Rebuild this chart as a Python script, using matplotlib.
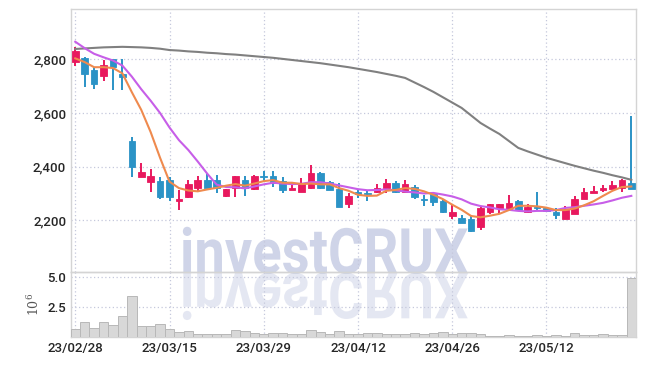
import matplotlib
matplotlib.use('Agg')
import matplotlib.pyplot as plt
import matplotlib.patheffects as pe
from matplotlib.transforms import Affine2D
import pandas as pd

# %% data
dates = [
    '2023-02-28', '2023-03-02', '2023-03-03', '2023-03-06', '2023-03-07', '2023-03-08', '2023-03-09', '2023-03-10',
    '2023-03-13', '2023-03-14', '2023-03-15', '2023-03-16', '2023-03-17', '2023-03-20', '2023-03-21', '2023-03-22',
    '2023-03-23', '2023-03-24', '2023-03-27', '2023-03-28', '2023-03-29', '2023-03-30', '2023-03-31', '2023-04-03',
    '2023-04-04', '2023-04-05', '2023-04-06', '2023-04-07', '2023-04-10', '2023-04-11', '2023-04-12', '2023-04-13',
    '2023-04-14', '2023-04-17', '2023-04-18', '2023-04-19', '2023-04-20', '2023-04-21', '2023-04-24', '2023-04-25',
    '2023-04-26', '2023-04-27', '2023-04-28', '2023-05-02', '2023-05-03', '2023-05-04', '2023-05-08', '2023-05-09',
    '2023-05-10', '2023-05-11', '2023-05-12', '2023-05-15', '2023-05-16', '2023-05-17', '2023-05-18', '2023-05-19',
    '2023-05-22', '2023-05-23', '2023-05-24', '2023-05-25',
]
opens = [2792, 2806, 2761, 2740, 2802, 2746, 2496, 2363, 2344, 2347, 2349, 2273, 2285, 2322, 2350, 2350, 2292, 2320,
         2350, 2316, 2366, 2365, 2347, 2313, 2307, 2320, 2376, 2342, 2316, 2260, 2304, 2302, 2305, 2322, 2339, 2307,
         2323, 2281, 2298, 2272, 2217, 2209, 2205, 2174, 2229, 2247, 2241, 2272, 2230, 2251, 2247, 2231, 2206, 2223,
         2279, 2303, 2314, 2318, 2322, 2338]
highs = [2845, 2808, 2771, 2798, 2802, 2802, 2510, 2413, 2390, 2363, 2363, 2313, 2350, 2365, 2373, 2369, 2317, 2367,
         2365, 2369, 2384, 2384, 2363, 2338, 2357, 2406, 2380, 2348, 2338, 2301, 2313, 2309, 2334, 2353, 2347, 2350,
         2332, 2295, 2305, 2276, 2261, 2220, 2220, 2255, 2262, 2262, 2294, 2276, 2260, 2305, 2251, 2245, 2255, 2292,
         2320, 2326, 2332, 2347, 2355, 2589]
lows = [2776, 2699, 2689, 2720, 2686, 2686, 2363, 2361, 2305, 2280, 2273, 2239, 2282, 2307, 2320, 2301, 2288, 2288,
        2290, 2313, 2348, 2325, 2301, 2313, 2307, 2318, 2316, 2312, 2251, 2244, 2282, 2272, 2302, 2303, 2301, 2305,
        2279, 2254, 2255, 2228, 2205, 2190, 2158, 2164, 2225, 2224, 2240, 2236, 2228, 2238, 2231, 2206, 2206, 2222,
        2278, 2301, 2305, 2316, 2306, 2316]
closes = [2833, 2747, 2710, 2779, 2771, 2734, 2398, 2379, 2365, 2288, 2288, 2280, 2336, 2349, 2322, 2320, 2317, 2365,
          2320, 2365, 2363, 2338, 2314, 2321, 2338, 2376, 2320, 2314, 2251, 2291, 2299, 2299, 2320, 2339, 2307, 2334,
          2285, 2277, 2270, 2229, 2230, 2191, 2161, 2245, 2260, 2261, 2264, 2238, 2249, 2247, 2236, 2220, 2238, 2280,
          2306, 2311, 2322, 2332, 2351, 2316]
# volume in millions of shares
volumes = [0.70, 1.26, 0.77, 1.26, 1.04, 1.78, 3.44, 0.95, 0.95, 1.12, 0.68, 0.43, 0.52, 0.27, 0.27, 0.27, 0.27, 0.60,
           0.52, 0.35, 0.27, 0.35, 0.35, 0.27, 0.27, 0.60, 0.43, 0.27, 0.52, 0.27, 0.27, 0.35, 0.35, 0.27, 0.27, 0.27,
           0.35, 0.27, 0.35, 0.46, 0.27, 0.35, 0.35, 0.27, 0.10, 0.10, 0.19, 0.10, 0.10, 0.19, 0.10, 0.19, 0.10, 0.35,
           0.19, 0.19, 0.31, 0.23, 0.23, 4.90]
ma_short = [2804, 2790, 2771, 2771, 2768, 2748, 2678, 2612, 2529, 2433, 2344, 2320, 2311, 2308, 2315, 2321, 2329, 2335,
            2329, 2337, 2346, 2350, 2340, 2340, 2335, 2337, 2334, 2334, 2320, 2310, 2295, 2291, 2292, 2310, 2313, 2320,
            2317, 2308, 2295, 2279, 2258, 2239, 2216, 2211, 2217, 2224, 2238, 2254, 2254, 2252, 2247, 2238, 2238, 2244,
            2256, 2271, 2291, 2310, 2324, 2326]
ma_mid = [2866, 2842, 2821, 2808, 2796, 2777, 2736, 2689, 2646, 2600, 2546, 2499, 2462, 2419, 2374, 2333, 2324, 2323,
          2319, 2326, 2334, 2340, 2337, 2335, 2336, 2342, 2342, 2337, 2330, 2323, 2316, 2312, 2313, 2315, 2312, 2307,
          2304, 2300, 2302, 2296, 2289, 2278, 2262, 2253, 2248, 2241, 2239, 2235, 2233, 2235, 2235, 2238, 2246, 2249,
          2254, 2259, 2265, 2274, 2284, 2291]
ma_long = [2839, 2841, 2843, 2845, 2846, 2847, 2846, 2845, 2843, 2840, 2835, 2833, 2830, 2828, 2825, 2823, 2820, 2818,
           2815, 2812, 2809, 2806, 2802, 2798, 2794, 2790, 2786, 2781, 2776, 2771, 2765, 2759, 2753, 2746, 2739, 2731,
           2714, 2697, 2679, 2659, 2639, 2619, 2591, 2563, 2542, 2522, 2496, 2470, 2457, 2445, 2433, 2423, 2413, 2403,
           2394, 2385, 2377, 2368, 2360, 2351]
price_ticks = [2200, 2400, 2600, 2800]
volume_ticks = [2.5, 5.0]

UP_COLOR = '#e8195e'
DOWN_COLOR = '#2b93c6'
GRID_COLOR = '#c5c8dc'
TEXT_COLOR = '#262626'

plt.rcParams['font.family'] = ['Roboto', 'DejaVu Sans']
plt.rcParams['font.weight'] = 'medium'

df = pd.DataFrame({'date': pd.to_datetime(dates), 'open': opens, 'high': highs, 'low': lows, 'close': closes,
                   'volume': volumes})
df['x'] = range(len(df))
df['up'] = df['close'] >= df['open']
df['color'] = df['up'].map({True: UP_COLOR, False: DOWN_COLOR})
df['body_lo'] = df[['open', 'close']].min(axis=1)
df['body_h'] = (df['close'] - df['open']).abs().clip(lower=4)


class Squeeze(pe.AbstractPathEffect):
    """draw the text path scaled about its baseline origin (sy=-1 gives a mirror image)"""
    def __init__(self, sx, sy=1.0, alpha=1.0):
        super().__init__()
        self.sx, self.sy, self.alpha = sx, sy, alpha

    def draw_path(self, renderer, gc, tpath, affine, rgbFace=None):
        gc0 = renderer.new_gc()
        gc0.copy_properties(gc)
        gc0.set_alpha(self.alpha)
        renderer.draw_path(gc0, tpath, Affine2D().scale(self.sx, self.sy) + affine, rgbFace)
        gc0.restore()


# %% figure
fig = plt.figure(figsize=(6.45, 3.66), dpi=100)
ax = fig.add_axes([0.1101, 0.2568, 0.876, 0.7178])
axv = fig.add_axes([0.1101, 0.0779, 0.876, 0.1789], sharex=ax)
for a in (ax, axv):
    a.set_facecolor('none')
    for s in a.spines.values():
        s.set_color('#d4d4d4')
        s.set_linewidth(1.0)
    a.grid(True, color=GRID_COLOR, linestyle=(0, (1, 2)), linewidth=0.9)
    a.set_axisbelow(True)
    a.tick_params(length=0, colors=TEXT_COLOR, labelsize=9.5)

# watermark + its reflection, drawn under both panels
fig.text(0.279, 0.253, 'investCRUX', fontsize=45.5, fontweight='bold', color='#cfd4e8', zorder=-5,
         family='Roboto', ha='left', va='baseline',
         path_effects=[Squeeze(0.86, 1.0), Squeeze(0.86, -1.0, alpha=0.55)])

# candles
ax.vlines(df['x'], df['low'], df['high'], colors=df['color'], linewidth=1.4, zorder=3)
ax.bar(df['x'], df['body_h'], bottom=df['body_lo'], width=0.7, color=df['color'], edgecolor=df['color'],
       linewidth=0.6, zorder=4)

# moving averages
ax.plot(df['x'], ma_long, color='#808080', linewidth=1.5, zorder=5)
ax.plot(df['x'], ma_mid, color='#c75ee8', linewidth=1.5, zorder=5)
ax.plot(df['x'], ma_short, color='#ef8a4e', linewidth=1.5, zorder=5)

ax.set_ylim(2007, 2987)
ax.set_yticks(price_ticks)
ax.set_yticklabels([f'{v:,}' for v in price_ticks])
ax.tick_params(axis='x', labelbottom=False)

# volume
axv.bar(df['x'], df['volume'], width=1.0, color='#d8d8d8', edgecolor='#b8b8b8', linewidth=0.7, zorder=3)
axv.set_ylim(0, 5.42)
axv.set_yticks(volume_ticks)
axv.set_yticklabels([f'{v:.1f}' for v in volume_ticks])
axv.set_ylabel(r'$10^{6}$', rotation=90, color='#555555', fontsize=9, math_fontfamily='dejavuserif', labelpad=4)

xt = df['x'][::10]
axv.set_xticks(xt)
axv.set_xticklabels(df['date'][::10].dt.strftime('%y/%m/%d'))
axv.set_xlim(-0.45, len(df) - 0.5)

fig.savefig('out.png', dpi=100, facecolor='white')
